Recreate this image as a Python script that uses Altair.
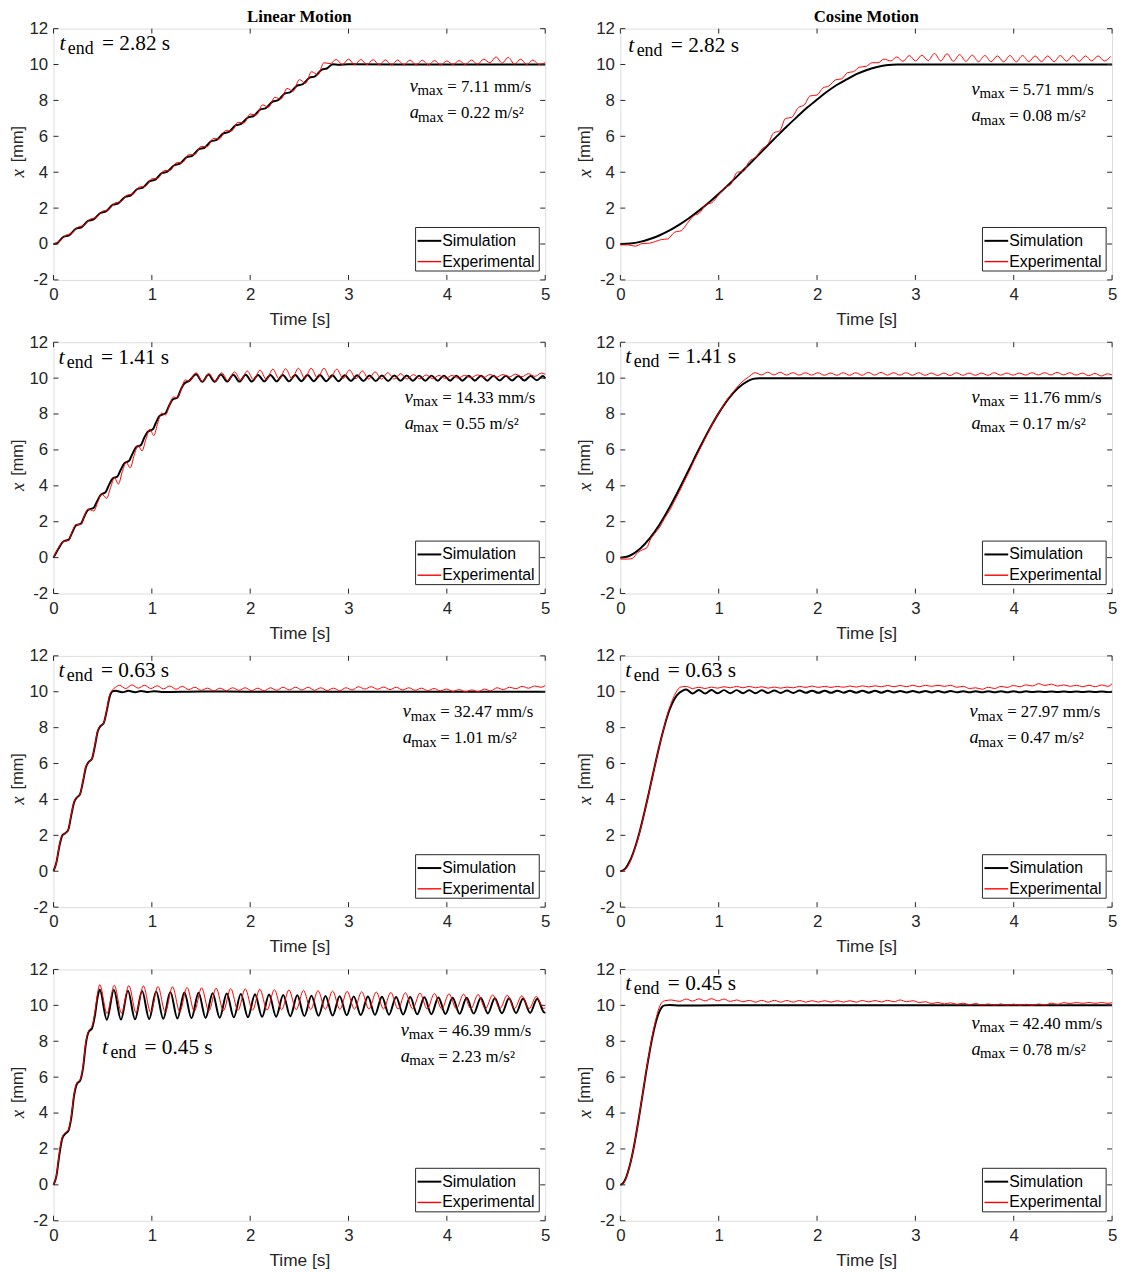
import altair as alt
import pandas as pd

# ------------------------------------------------------------------ style
W, H = 497, 254
SANS = "Liberation Sans"
SERIF = "Liberation Serif"
AX = "#262626"
SIM_COLOR = "#000000"
EXP_COLOR = "#ff0000"

# ------------------------------------------------------------------ axis / labels
X_TICKS = [0, 1, 2, 3, 4, 5]
Y_TICKS = [-2, 0, 2, 4, 6, 8, 10, 12]
LEGEND_LABELS = ["Simulation", "Experimental"]
COL_TITLES = ["Linear Motion", "Cosine Motion"]

# panel texts: t_end, v_max, a_max
A_INFO = ["2.82", "7.11", "0.22"]
B_INFO = ["2.82", "5.71", "0.08"]
C_INFO = ["1.41", "14.33", "0.55"]
D_INFO = ["1.41", "11.76", "0.17"]
E_INFO = ["0.63", "32.47", "1.01"]
F_INFO = ["0.63", "27.97", "0.47"]
G_INFO = ["0.45", "46.39", "2.23"]
H_INFO = ["0.45", "42.40", "0.78"]

# ------------------------------------------------------------------ data (t [s], x [mm])
# Panel A: linear, t_end = 2.82 s
A_SIM = [(0, 0), (0.03, 0.03), (0.105, 0.41), (0.155, 0.47), (0.23, 0.86), (0.28, 0.92),
         (0.355, 1.30), (0.405, 1.36), (0.48, 1.74), (0.53, 1.80), (0.605, 2.19), (0.655, 2.25),
         (0.73, 2.63), (0.78, 2.69), (0.855, 3.07), (0.905, 3.13), (0.98, 3.51), (1.03, 3.57),
         (1.105, 3.96), (1.155, 4.02), (1.23, 4.40), (1.28, 4.46), (1.355, 4.84), (1.405, 4.90),
         (1.48, 5.29), (1.53, 5.35), (1.605, 5.73), (1.655, 5.79), (1.73, 6.17), (1.78, 6.23),
         (1.855, 6.62), (1.905, 6.68), (1.98, 7.06), (2.03, 7.12), (2.105, 7.50), (2.155, 7.56),
         (2.23, 7.94), (2.28, 8.00), (2.355, 8.39), (2.405, 8.45), (2.48, 8.83), (2.53, 8.89),
         (2.605, 9.27), (2.655, 9.33), (2.73, 9.72), (2.78, 9.78), (2.84, 10.02), (2.9, 9.99),
         (3.0, 10.01), (4.0, 10.0), (5.0, 10.0)]
A_EXP = [(0, 0), (0.0625, 0.17), (0.125, 0.49), (0.1875, 0.61), (0.25, 0.94), (0.3125, 1.05),
         (0.375, 1.39), (0.4375, 1.49), (0.5, 1.83), (0.5625, 1.92), (0.625, 2.29), (0.6875, 2.37),
         (0.75, 2.73), (0.8125, 2.80), (0.875, 3.18), (0.9375, 3.23), (1.0, 3.63), (1.0625, 3.67),
         (1.125, 4.09), (1.1875, 4.11), (1.25, 4.53), (1.3125, 4.55), (1.375, 4.97), (1.4375, 4.99),
         (1.5, 5.43), (1.5625, 5.43), (1.625, 5.88), (1.6875, 5.86), (1.75, 6.32), (1.8125, 6.30),
         (1.875, 6.78), (1.9375, 6.75), (2.0, 7.24), (2.0625, 7.19), (2.125, 7.75), (2.1875, 7.63),
         (2.25, 8.17), (2.3125, 8.08), (2.375, 8.67), (2.4375, 8.52), (2.5, 9.16), (2.5625, 8.96),
         (2.625, 9.6), (2.6875, 9.43), (2.75, 10.1), (2.8125, 10.05), (2.875, 10.28), (2.9375, 10.0),
         (3.0, 10.3), (3.0625, 9.99), (3.125, 10.28), (3.1875, 9.99), (3.25, 10.27), (3.3125, 9.98),
         (3.375, 10.26), (3.4375, 9.98), (3.5, 10.25), (3.5625, 9.98), (3.625, 10.25), (3.6875, 9.98),
         (3.75, 10.24), (3.8125, 9.98), (3.875, 10.22), (3.9375, 9.98), (4.0, 10.2), (4.0625, 10.0),
         (4.125, 10.22), (4.1875, 10.0), (4.25, 10.25), (4.3125, 10.02), (4.375, 10.3), (4.4375, 10.1),
         (4.5, 10.42), (4.5625, 10.08), (4.625, 10.4), (4.6875, 10.02), (4.75, 10.3), (4.8125, 10.0),
         (4.875, 10.25), (4.9375, 10.0), (5.0, 10.1)]

# Panel B: cosine, t_end = 2.82 s
B_SIM = [(0, 0), (0.1, 0.03), (0.2, 0.12), (0.3, 0.28), (0.4, 0.49), (0.5, 0.76), (0.6, 1.08),
         (0.7, 1.45), (0.8, 1.86), (0.9, 2.31), (1.0, 2.80), (1.1, 3.31), (1.2, 3.84), (1.3, 4.39),
         (1.4, 4.94), (1.5, 5.50), (1.6, 6.05), (1.7, 6.59), (1.8, 7.10), (1.9, 7.60), (2.0, 8.05),
         (2.1, 8.48), (2.2, 8.86), (2.3, 9.17), (2.4, 9.46), (2.5, 9.68), (2.6, 9.85), (2.7, 9.96),
         (2.82, 10.0), (3.5, 10.0), (5.0, 10.0)]
B_EXP_RAMP = [(0, -0.05), (0.08, -0.05), (0.15, -0.12), (0.22, 0.02), (0.3, 0.05), (0.36, 0.15),
              (0.42, 0.25), (0.48, 0.28), (0.55, 0.65), (0.62, 0.75), (0.68, 1.15), (0.75, 1.6),
              (0.8, 1.7), (0.87, 2.2), (0.93, 2.3), (1.0, 2.75), (1.06, 3.15), (1.12, 3.3),
              (1.19, 4.0), (1.25, 4.05), (1.31, 4.6), (1.38, 4.85), (1.44, 5.3), (1.5, 5.55),
              (1.56, 6.2), (1.62, 6.3), (1.68, 7.0), (1.74, 7.05), (1.81, 7.6), (1.87, 7.75),
              (1.93, 8.25), (2.0, 8.3), (2.06, 8.7), (2.12, 8.8), (2.19, 9.15), (2.25, 9.2),
              (2.31, 9.55), (2.37, 9.6), (2.43, 9.85), (2.5, 9.9), (2.56, 10.1), (2.62, 10.1),
              (2.68, 10.3), (2.75, 10.2)]
B_EXP_PEAKS = [(2.81, 10.42), (2.938, 10.5), (3.066, 10.52), (3.194, 10.62), (3.322, 10.6),
               (3.45, 10.55), (3.578, 10.52), (3.706, 10.5), (3.834, 10.48), (3.962, 10.5),
               (4.09, 10.5), (4.218, 10.48), (4.346, 10.48), (4.474, 10.5), (4.602, 10.5),
               (4.73, 10.48), (4.858, 10.48), (4.986, 10.45)]
B_EXP_TROUGHS = [(2.874, 10.18), (3.002, 10.2), (3.13, 10.22), (3.258, 10.2), (3.386, 10.18),
                 (3.514, 10.18), (3.642, 10.16), (3.77, 10.16), (3.898, 10.15), (4.026, 10.15),
                 (4.154, 10.16), (4.282, 10.16), (4.41, 10.16), (4.538, 10.18), (4.666, 10.18),
                 (4.794, 10.2), (4.922, 10.2)]

# Panel C: linear, t_end = 1.41 s
C_SIM_RAMP = [(0, 0), (0.05, 0.5), (0.1, 0.9), (0.155, 1.0), (0.19, 1.4), (0.23, 1.8), (0.28, 1.9),
              (0.31, 2.25), (0.35, 2.65), (0.41, 2.78), (0.44, 3.1), (0.48, 3.5), (0.53, 3.65),
              (0.56, 4.0), (0.6, 4.4), (0.65, 4.52), (0.68, 4.85), (0.72, 5.25), (0.77, 5.4),
              (0.8, 5.75), (0.84, 6.15), (0.89, 6.28), (0.92, 6.65), (0.96, 7.02), (1.01, 7.15),
              (1.04, 7.5), (1.08, 7.9), (1.14, 8.05), (1.17, 8.4), (1.21, 8.8), (1.26, 8.92),
              (1.29, 9.3), (1.33, 9.7), (1.38, 9.85)]
C_SIM_PEAKS = [(1.45, 10.22), (1.576, 10.2), (1.702, 10.2), (1.828, 10.19), (1.954, 10.19),
               (2.08, 10.18), (2.206, 10.18), (2.332, 10.18), (2.458, 10.17), (2.584, 10.17),
               (2.71, 10.17), (2.836, 10.16), (2.962, 10.16), (3.088, 10.16), (3.214, 10.15),
               (3.34, 10.15), (3.466, 10.15), (3.592, 10.15), (3.718, 10.14), (3.844, 10.14),
               (3.97, 10.14), (4.096, 10.14), (4.222, 10.13), (4.348, 10.13), (4.474, 10.13),
               (4.6, 10.13), (4.726, 10.12), (4.852, 10.12), (4.978, 10.12)]
C_SIM_TROUGHS = [(1.513, 9.8), (1.639, 9.8), (1.765, 9.81), (1.891, 9.81), (2.017, 9.81),
                 (2.143, 9.82), (2.269, 9.82), (2.395, 9.82), (2.521, 9.83), (2.647, 9.83),
                 (2.773, 9.83), (2.899, 9.83), (3.025, 9.84), (3.151, 9.84), (3.277, 9.84),
                 (3.403, 9.84), (3.529, 9.85), (3.655, 9.85), (3.781, 9.85), (3.907, 9.85),
                 (4.033, 9.86), (4.159, 9.86), (4.285, 9.86), (4.411, 9.86), (4.537, 9.87),
                 (4.663, 9.87), (4.789, 9.87), (4.915, 9.88), (5.0, 9.98)]
C_EXP_RAMP = [(0, 0), (0.05, 0.55), (0.1, 0.9), (0.155, 0.95), (0.19, 1.45), (0.23, 1.85),
              (0.28, 1.85), (0.31, 2.25), (0.35, 2.7), (0.41, 2.6), (0.45, 3.1), (0.49, 3.55),
              (0.54, 3.3), (0.58, 3.9), (0.62, 4.45), (0.66, 4.1), (0.7, 4.8), (0.74, 5.3),
              (0.78, 5.0), (0.82, 5.7), (0.86, 6.25), (0.9, 5.95), (0.94, 6.6), (0.98, 7.15),
              (1.02, 6.8), (1.06, 7.5), (1.1, 8.05), (1.14, 7.95), (1.18, 8.5), (1.22, 8.95),
              (1.26, 8.9), (1.3, 9.4), (1.34, 9.9), (1.38, 9.85)]
C_EXP_PEAKS = [(1.45, 10.3), (1.58, 10.25), (1.71, 10.3), (1.84, 10.35), (1.97, 10.4),
               (2.1, 10.45), (2.23, 10.5), (2.36, 10.52), (2.49, 10.55), (2.62, 10.55),
               (2.75, 10.55), (2.88, 10.5), (3.01, 10.45), (3.14, 10.4), (3.27, 10.35),
               (3.4, 10.3), (3.53, 10.25), (3.66, 10.2), (3.79, 10.18), (3.92, 10.15),
               (4.05, 10.15), (4.18, 10.15), (4.31, 10.18), (4.44, 10.2), (4.57, 10.2),
               (4.7, 10.22), (4.83, 10.25), (4.96, 10.28)]
C_EXP_TROUGHS = [(1.515, 9.8), (1.645, 9.82), (1.775, 9.85), (1.905, 9.88), (2.035, 9.9),
                 (2.165, 9.92), (2.295, 9.95), (2.425, 9.97), (2.555, 10.0), (2.685, 10.0),
                 (2.815, 10.0), (2.945, 9.98), (3.075, 9.97), (3.205, 9.95), (3.335, 9.95),
                 (3.465, 9.95), (3.595, 9.95), (3.725, 9.96), (3.855, 9.97), (3.985, 9.98),
                 (4.115, 10.0), (4.245, 10.02), (4.375, 10.04), (4.505, 10.05), (4.635, 10.07),
                 (4.765, 10.08), (4.895, 10.1), (5.0, 10.22)]

# Panel D: cosine, t_end = 1.41 s
D_SIM = [(0, 0), (0.05, 0.03), (0.1, 0.12), (0.2, 0.49), (0.3, 1.08), (0.4, 1.86), (0.5, 2.80),
         (0.6, 3.84), (0.7, 4.94), (0.8, 6.05), (0.9, 7.10), (1.0, 8.05), (1.1, 8.86), (1.2, 9.46),
         (1.3, 9.85), (1.35, 9.96), (1.41, 10.0), (2.0, 10.0), (5.0, 10.0)]
D_EXP_RAMP = [(0, -0.08), (0.07, -0.08), (0.12, -0.05), (0.18, 0.3), (0.23, 0.45), (0.27, 0.55),
              (0.3, 0.95), (0.35, 1.35), (0.4, 1.7), (0.45, 2.2), (0.5, 2.62), (0.55, 3.15),
              (0.6, 3.68), (0.65, 4.25), (0.7, 4.8), (0.75, 5.4), (0.8, 5.95), (0.85, 6.5),
              (0.9, 7.05), (0.95, 7.6), (1.0, 8.05), (1.05, 8.5), (1.1, 8.9), (1.15, 9.25),
              (1.2, 9.58), (1.25, 9.85), (1.3, 10.05)]
D_EXP_PEAKS = [(1.37, 10.3), (1.498, 10.33), (1.626, 10.32), (1.754, 10.3), (1.882, 10.3),
               (2.01, 10.3), (2.138, 10.28), (2.266, 10.3), (2.394, 10.3), (2.522, 10.32),
               (2.65, 10.32), (2.778, 10.3), (2.906, 10.3), (3.034, 10.3), (3.162, 10.28),
               (3.29, 10.28), (3.418, 10.3), (3.546, 10.28), (3.674, 10.28), (3.802, 10.3),
               (3.93, 10.28), (4.058, 10.28), (4.186, 10.3), (4.314, 10.3), (4.442, 10.32),
               (4.57, 10.3), (4.698, 10.28), (4.826, 10.26), (4.954, 10.24)]
D_EXP_TROUGHS = [(1.434, 10.18), (1.562, 10.18), (1.69, 10.17), (1.818, 10.17), (1.946, 10.17),
                 (2.074, 10.16), (2.202, 10.16), (2.33, 10.16), (2.458, 10.16), (2.586, 10.17),
                 (2.714, 10.17), (2.842, 10.17), (2.97, 10.16), (3.098, 10.16), (3.226, 10.15),
                 (3.354, 10.15), (3.482, 10.16), (3.61, 10.16), (3.738, 10.16), (3.866, 10.17),
                 (3.994, 10.17), (4.122, 10.17), (4.25, 10.18), (4.378, 10.18), (4.506, 10.18),
                 (4.634, 10.17), (4.762, 10.14), (4.89, 10.12), (5.0, 10.18)]

# ripple instants read for the settled part of panels E, F and H
RIPPLE_PEAK_T = [0.67, 0.798, 0.926, 1.054, 1.182, 1.31, 1.438, 1.566, 1.694, 1.822,
                 1.95, 2.078, 2.206, 2.334, 2.462, 2.59, 2.718, 2.846, 2.974, 3.102,
                 3.23, 3.358, 3.486, 3.614, 3.742, 3.87, 3.998, 4.126, 4.254, 4.382,
                 4.51, 4.638, 4.766, 4.894]
RIPPLE_TROUGH_T = [0.734, 0.862, 0.99, 1.118, 1.246, 1.374, 1.502, 1.63, 1.758, 1.886,
                   2.014, 2.142, 2.27, 2.398, 2.526, 2.654, 2.782, 2.91, 3.038, 3.166,
                   3.294, 3.422, 3.55, 3.678, 3.806, 3.934, 4.062, 4.19, 4.318, 4.446,
                   4.574, 4.702, 4.83, 4.958]

# Panel E: linear, t_end = 0.63 s
E_SIM = [(0, 0), (0.03, 0.5), (0.06, 1.4), (0.09, 2.0), (0.12, 2.12), (0.15, 2.3), (0.18, 3.1),
         (0.21, 3.85), (0.24, 4.12), (0.27, 4.3), (0.3, 5.0), (0.33, 5.8), (0.36, 6.1),
         (0.39, 6.25), (0.42, 6.95), (0.45, 7.8), (0.48, 8.1), (0.51, 8.25), (0.54, 8.9),
         (0.57, 9.7), (0.6, 10.02), (0.63, 10.05), (0.7, 9.97), (0.76, 10.05), (0.83, 9.97),
         (0.89, 10.04), (0.96, 9.98), (1.02, 10.03), (1.1, 9.99), (1.5, 10.02), (2.0, 10.0),
         (5.0, 10.0)]
E_EXP_RAMP = [(0, 0), (0.03, 0.5), (0.06, 1.45), (0.09, 2.02), (0.12, 2.12), (0.15, 2.3),
              (0.18, 3.15), (0.21, 3.9), (0.24, 4.12), (0.27, 4.3), (0.3, 5.05), (0.33, 5.85),
              (0.36, 6.1), (0.39, 6.25), (0.42, 7.0), (0.45, 7.85), (0.48, 8.1), (0.51, 8.25),
              (0.54, 8.95), (0.57, 9.8), (0.6, 10.1), (0.63, 10.25), (5.0, 10.35)]
E_EXP_PEAK_X = [10.36, 10.38, 10.36, 10.33, 10.32, 10.3, 10.25, 10.2, 10.2, 10.22,
                10.22, 10.2, 10.22, 10.25, 10.25, 10.25, 10.22, 10.2, 10.22, 10.28,
                10.28, 10.26, 10.25, 10.22, 10.2, 10.18, 10.15, 10.12, 10.1, 10.15,
                10.22, 10.25, 10.3, 10.32]
E_EXP_TROUGH_X = [10.18, 10.2, 10.18, 10.16, 10.14, 10.12, 10.08, 10.05, 10.06, 10.08,
                  10.06, 10.05, 10.08, 10.1, 10.1, 10.08, 10.07, 10.06, 10.1, 10.15,
                  10.14, 10.12, 10.1, 10.08, 10.06, 10.05, 10.02, 10.0, 10.0, 10.05,
                  10.12, 10.17, 10.2, 10.25]

# Panel F: cosine, t_end = 0.63 s
F_SIM_RAMP = [(0, 0), (0.05, 0.15), (0.1, 0.61), (0.15, 1.34), (0.2, 2.29), (0.25, 3.41),
              (0.3, 4.63), (0.35, 5.87), (0.4, 7.06), (0.45, 8.12), (0.5, 9.0), (0.55, 9.6),
              (0.6, 9.94), (0.63, 10.05), (5.0, 10.0)]
F_SIM_PEAK_X = [10.12, 10.1, 10.1, 10.09, 10.09, 10.08, 10.08, 10.07, 10.07, 10.07,
                10.06, 10.06, 10.06, 10.05, 10.05, 10.05, 10.05, 10.04, 10.04, 10.04,
                10.04, 10.04, 10.03, 10.03, 10.03, 10.03, 10.03, 10.03, 10.02, 10.02,
                10.02, 10.02, 10.02, 10.02]
F_SIM_TROUGH_X = [9.9, 9.9, 9.91, 9.91, 9.92, 9.92, 9.93, 9.93, 9.93, 9.94,
                  9.94, 9.94, 9.95, 9.95, 9.95, 9.95, 9.96, 9.96, 9.96, 9.96,
                  9.96, 9.97, 9.97, 9.97, 9.97, 9.97, 9.97, 9.98, 9.98, 9.98,
                  9.98, 9.98, 9.98, 9.98]
F_EXP_RAMP = [(0, 0), (0.05, 0.1), (0.1, 0.55), (0.15, 1.3), (0.2, 2.25), (0.25, 3.4),
              (0.3, 4.6), (0.35, 5.85), (0.4, 7.05), (0.45, 8.15), (0.5, 9.1), (0.55, 9.8),
              (0.6, 10.22), (0.63, 10.28), (5.0, 10.45)]
F_EXP_PEAK_X = [10.3, 10.25, 10.26, 10.28, 10.3, 10.3, 10.28, 10.26, 10.26, 10.3,
                10.32, 10.3, 10.3, 10.32, 10.33, 10.33, 10.35, 10.35, 10.36, 10.36,
                10.36, 10.36, 10.3, 10.22, 10.25, 10.3, 10.35, 10.38, 10.45, 10.42,
                10.38, 10.36, 10.36, 10.38]
F_EXP_TROUGH_X = [10.18, 10.18, 10.2, 10.22, 10.22, 10.22, 10.2, 10.2, 10.22, 10.24,
                  10.24, 10.24, 10.25, 10.26, 10.27, 10.28, 10.28, 10.28, 10.28, 10.3,
                  10.3, 10.25, 10.18, 10.14, 10.18, 10.24, 10.28, 10.32, 10.35, 10.32,
                  10.3, 10.28, 10.28, 10.3]

# Panel G: linear, t_end = 0.45 s
G_SIM_RAMP = [(0, 0), (0.03, 0.5), (0.06, 1.7), (0.09, 2.6), (0.12, 2.85), (0.15, 3.0),
              (0.18, 3.7), (0.21, 5.0), (0.24, 5.65), (0.27, 5.8), (0.3, 6.5), (0.33, 7.9),
              (0.36, 8.55), (0.39, 8.7), (0.42, 9.4), (0.45, 10.5), (5.0, 9.62)]
G_SIM_PEAK_T = [0.47, 0.614, 0.757, 0.901, 1.044, 1.188, 1.331, 1.475, 1.618, 1.762,
                1.905, 2.049, 2.192, 2.336, 2.479, 2.623, 2.766, 2.91, 3.053, 3.197,
                3.34, 3.484, 3.627, 3.771, 3.914, 4.058, 4.201, 4.345, 4.488, 4.632,
                4.775, 4.919]
G_SIM_PEAK_X = [10.88, 10.85, 10.82, 10.8, 10.77, 10.75, 10.72, 10.7, 10.68, 10.66,
                10.64, 10.62, 10.6, 10.58, 10.56, 10.54, 10.52, 10.51, 10.5, 10.49,
                10.48, 10.47, 10.46, 10.45, 10.44, 10.43, 10.42, 10.41, 10.4, 10.39,
                10.38, 10.37]
G_SIM_TROUGH_T = [0.542, 0.686, 0.829, 0.973, 1.116, 1.26, 1.403, 1.547, 1.69, 1.834,
                  1.977, 2.121, 2.264, 2.408, 2.551, 2.695, 2.838, 2.982, 3.125, 3.269,
                  3.412, 3.556, 3.699, 3.843, 3.986, 4.13, 4.273, 4.417, 4.56, 4.704,
                  4.847, 4.991]
G_SIM_TROUGH_X = [9.2, 9.21, 9.22, 9.24, 9.25, 9.27, 9.28, 9.3, 9.31, 9.33,
                  9.34, 9.36, 9.37, 9.39, 9.4, 9.42, 9.43, 9.45, 9.46, 9.47,
                  9.48, 9.49, 9.5, 9.51, 9.52, 9.53, 9.54, 9.55, 9.56, 9.57,
                  9.58, 9.6]
G_EXP_RAMP = [(0, 0), (0.03, 0.55), (0.06, 1.8), (0.09, 2.65), (0.12, 2.9), (0.15, 3.05),
              (0.18, 3.8), (0.21, 5.1), (0.24, 5.7), (0.27, 5.85), (0.3, 6.6), (0.33, 8.0),
              (0.36, 8.6), (0.39, 8.8), (0.42, 9.6), (0.45, 10.75), (5.0, 9.86)]
G_EXP_PEAK_T = [0.47, 0.618, 0.766, 0.914, 1.062, 1.21, 1.358, 1.506, 1.654, 1.802,
                1.95, 2.098, 2.246, 2.394, 2.542, 2.69, 2.838, 2.986, 3.134, 3.282,
                3.43, 3.578, 3.726, 3.874, 4.022, 4.17, 4.318, 4.466, 4.614, 4.762,
                4.91]
G_EXP_PEAK_X = [11.15, 11.12, 11.1, 11.08, 11.05, 11.03, 11.0, 10.98, 10.96, 10.94,
                10.92, 10.9, 10.88, 10.86, 10.84, 10.82, 10.8, 10.78, 10.76, 10.74,
                10.72, 10.7, 10.68, 10.66, 10.64, 10.62, 10.6, 10.58, 10.56, 10.53,
                10.5]
G_EXP_TROUGH_T = [0.544, 0.692, 0.84, 0.988, 1.136, 1.284, 1.432, 1.58, 1.728, 1.876,
                  2.024, 2.172, 2.32, 2.468, 2.616, 2.764, 2.912, 3.06, 3.208, 3.356,
                  3.504, 3.652, 3.8, 3.948, 4.096, 4.244, 4.392, 4.54, 4.688, 4.836,
                  4.984]
G_EXP_TROUGH_X = [9.55, 9.57, 9.59, 9.61, 9.63, 9.65, 9.67, 9.69, 9.7, 9.72,
                  9.73, 9.74, 9.75, 9.76, 9.77, 9.78, 9.78, 9.79, 9.79, 9.8,
                  9.8, 9.8, 9.8, 9.8, 9.81, 9.81, 9.81, 9.82, 9.82, 9.82,
                  9.83]

# Panel H: cosine, t_end = 0.45 s
H_SIM = [(0, 0), (0.03, 0.11), (0.06, 0.43), (0.09, 0.96), (0.12, 1.65), (0.15, 2.5),
         (0.18, 3.46), (0.21, 4.48), (0.24, 5.52), (0.27, 6.55), (0.3, 7.5), (0.33, 8.35),
         (0.36, 9.05), (0.39, 9.57), (0.42, 9.89), (0.45, 10.0), (0.5, 10.02), (0.6, 9.99),
         (1.0, 10.0), (5.0, 10.0)]
H_EXP_RAMP = [(0, 0), (0.03, 0.08), (0.06, 0.4), (0.09, 0.95), (0.12, 1.65), (0.15, 2.5),
              (0.18, 3.45), (0.21, 4.5), (0.24, 5.55), (0.27, 6.6), (0.3, 7.55), (0.33, 8.45),
              (0.36, 9.2), (0.39, 9.8), (0.42, 10.15), (0.45, 10.25), (0.52, 10.3), (0.6, 10.22),
              (5.0, 10.15)]
H_EXP_PEAK_X = [10.35, 10.36, 10.37, 10.35, 10.3, 10.28, 10.28, 10.28, 10.27, 10.27,
                10.26, 10.26, 10.26, 10.26, 10.27, 10.27, 10.28, 10.3, 10.26, 10.2,
                10.16, 10.14, 10.12, 10.1, 10.08, 10.08, 10.07, 10.06, 10.08, 10.12,
                10.15, 10.16, 10.16, 10.16]
H_EXP_TROUGH_X = [10.24, 10.25, 10.25, 10.22, 10.2, 10.18, 10.18, 10.18, 10.18, 10.18,
                  10.18, 10.18, 10.18, 10.18, 10.19, 10.19, 10.2, 10.2, 10.16, 10.1,
                  10.08, 10.06, 10.04, 10.02, 10.01, 10.0, 10.0, 10.0, 10.02, 10.06,
                  10.1, 10.11, 10.11, 10.11]


# ------------------------------------------------------------------ helpers
def curve(*groups):
    rows = []
    for g in groups:
        rows.extend(g)
    return pd.DataFrame(rows, columns=["t", "x"]).sort_values("t").reset_index(drop=True)


def pairs(ts, xs):
    return list(zip(ts, xs))


ONE = pd.DataFrame({"k": [0]})


def txt(text, x, y, size, font=SERIF, style="normal", weight="normal",
        align="left", baseline="alphabetic", angle=0, color="black"):
    return alt.Chart(pd.DataFrame({"s": [text]})).mark_text(
        font=font, fontSize=size, fontStyle=style, fontWeight=weight,
        align=align, baseline=baseline, angle=angle, color=color
    ).encode(x=alt.value(x), y=alt.value(y), text="s:N")


def subscripted(x, y, main, sub, rest, main_size, sub_size, rest_size, dx_sub, dx_rest, dy_sub):
    return [
        txt(main, x, y, main_size, style="italic"),
        txt(sub, x + dx_sub, y + dy_sub, sub_size),
        txt(rest, x + dx_rest, y, rest_size),
    ]


def panel(sim, exp, info, tend_pos, v_pos, title=None):
    xs = alt.Scale(domain=[0, 5], nice=False, zero=False)
    ys = alt.Scale(domain=[-2, 12], nice=False, zero=False)
    xax = alt.Axis(values=X_TICKS, title="Time [s]", format="d", grid=False, ticks=False,
                   domain=False, labelFont=SANS, labelFontSize=17, labelColor=AX,
                   labelPadding=7, labelFlush=False, titleFont=SANS, titleFontSize=17.5,
                   titleFontWeight="normal", titleColor=AX, titlePadding=8)
    yax = alt.Axis(values=Y_TICKS, title=None, format="d", grid=False, ticks=False,
                   domain=False, labelFont=SANS, labelFontSize=17, labelColor=AX,
                   labelPadding=6, labelFlush=False,
                   labelExpr="replace(datum.label, '\u2212', '-')")
    X = alt.X("t:Q", scale=xs, axis=xax)
    Y = alt.Y("x:Q", scale=ys, axis=yax)

    layers = [
        alt.Chart(sim).mark_line(color=SIM_COLOR, strokeWidth=2, interpolate="monotone")
        .encode(x=X, y=Y),
        alt.Chart(exp).mark_line(color=EXP_COLOR, strokeWidth=1, interpolate="monotone")
        .encode(x=X, y=Y),
    ]
    # inward ticks on all four sides
    xt = pd.DataFrame({"t": X_TICKS})
    yt = pd.DataFrame({"x": Y_TICKS})
    layers += [
        alt.Chart(xt).mark_rule(color=AX, strokeWidth=1).encode(x=X, y=alt.value(H), y2=alt.value(H - 5)),
        alt.Chart(xt).mark_rule(color=AX, strokeWidth=1).encode(x=X, y=alt.value(0), y2=alt.value(5)),
        alt.Chart(yt).mark_rule(color=AX, strokeWidth=1).encode(y=Y, x=alt.value(0), x2=alt.value(5)),
        alt.Chart(yt).mark_rule(color=AX, strokeWidth=1).encode(y=Y, x=alt.value(W), x2=alt.value(W - 5)),
    ]
    # y-axis title "x [mm]"
    layers += [
        txt("x", -36, H / 2 + 15, 19, style="italic", align="right", baseline="middle",
            angle=270, color=AX),
        txt("[mm]", -36, H / 2 + 8, 16.5, font=SANS, align="left", baseline="middle",
            angle=270, color=AX),
    ]
    # annotations
    tx, ty = tend_pos
    layers += subscripted(tx, ty, "t", "end", "= %s s" % info[0], 22, 18, 21.5, 8.5, 43, 4)
    vx, vy = v_pos
    layers += subscripted(vx, vy, "v", "max", "= %s mm/s" % info[1], 18.5, 15, 17, 8, 38, 3.5)
    layers += subscripted(vx, vy + 26.5, "a", "max", "= %s m/s\u00b2" % info[2], 18.5, 15, 17, 8.5, 38, 3.5)
    # legend box
    lx0, lx1 = W - 131, W - 6
    layers += [
        alt.Chart(ONE).mark_rect(fill="white", stroke=AX, strokeWidth=1)
        .encode(x=alt.value(lx0), x2=alt.value(lx1), y=alt.value(201), y2=alt.value(245)),
        alt.Chart(ONE).mark_rule(color=SIM_COLOR, strokeWidth=2)
        .encode(x=alt.value(lx0 + 2), x2=alt.value(lx0 + 26), y=alt.value(214.5)),
        alt.Chart(ONE).mark_rule(color=EXP_COLOR, strokeWidth=1.4)
        .encode(x=alt.value(lx0 + 2), x2=alt.value(lx0 + 26), y=alt.value(235.5)),
        txt(LEGEND_LABELS[0], lx0 + 27, 214.5, 16, font=SANS, baseline="middle"),
        txt(LEGEND_LABELS[1], lx0 + 27, 235.5, 16, font=SANS, baseline="middle"),
    ]
    if title:
        layers.append(txt(title, W / 2, -7, 17, weight="bold", align="center"))
    return alt.layer(*layers).properties(width=W, height=H)


# ------------------------------------------------------------------ panels
pA = panel(curve(A_SIM), curve(A_EXP), A_INFO, (6, 22), (360, 64), COL_TITLES[0])
pB = panel(curve(B_SIM), curve(B_EXP_RAMP, B_EXP_PEAKS, B_EXP_TROUGHS), B_INFO,
           (8, 24), (355, 67), COL_TITLES[1])
pC = panel(curve(C_SIM_RAMP, C_SIM_PEAKS, C_SIM_TROUGHS),
           curve(C_EXP_RAMP, C_EXP_PEAKS, C_EXP_TROUGHS), C_INFO, (5, 22), (355, 61))
pD = panel(curve(D_SIM), curve(D_EXP_RAMP, D_EXP_PEAKS, D_EXP_TROUGHS), D_INFO, (5, 21), (355, 61))
pE = panel(curve(E_SIM),
           curve(E_EXP_RAMP, pairs(RIPPLE_PEAK_T, E_EXP_PEAK_X), pairs(RIPPLE_TROUGH_T, E_EXP_TROUGH_X)),
           E_INFO, (5, 21), (353, 62))
pF = panel(curve(F_SIM_RAMP, pairs(RIPPLE_PEAK_T, F_SIM_PEAK_X), pairs(RIPPLE_TROUGH_T, F_SIM_TROUGH_X)),
           curve(F_EXP_RAMP, pairs(RIPPLE_PEAK_T, F_EXP_PEAK_X), pairs(RIPPLE_TROUGH_T, F_EXP_TROUGH_X)),
           F_INFO, (5, 21), (353, 62))
pG = panel(curve(G_SIM_RAMP, pairs(G_SIM_PEAK_T, G_SIM_PEAK_X), pairs(G_SIM_TROUGH_T, G_SIM_TROUGH_X)),
           curve(G_EXP_RAMP, pairs(G_EXP_PEAK_T, G_EXP_PEAK_X), pairs(G_EXP_TROUGH_T, G_EXP_TROUGH_X)),
           G_INFO, (49, 85), (351, 67))
pH = panel(curve(H_SIM),
           curve(H_EXP_RAMP, pairs(RIPPLE_PEAK_T, H_EXP_PEAK_X), pairs(RIPPLE_TROUGH_T, H_EXP_TROUGH_X)),
           H_INFO, (5, 21), (355, 60))

chart = alt.concat(pA, pB, pC, pD, pE, pF, pG, pH, columns=2,
                   spacing={"row": 63, "column": 76}, bounds="flush").properties(
    padding={"left": 0, "top": -8, "right": 0, "bottom": 0}
).configure_view(stroke=AX, strokeWidth=1).configure(background="white")

chart.save("out.html", embed_options={"renderer": "svg", "actions": False})
